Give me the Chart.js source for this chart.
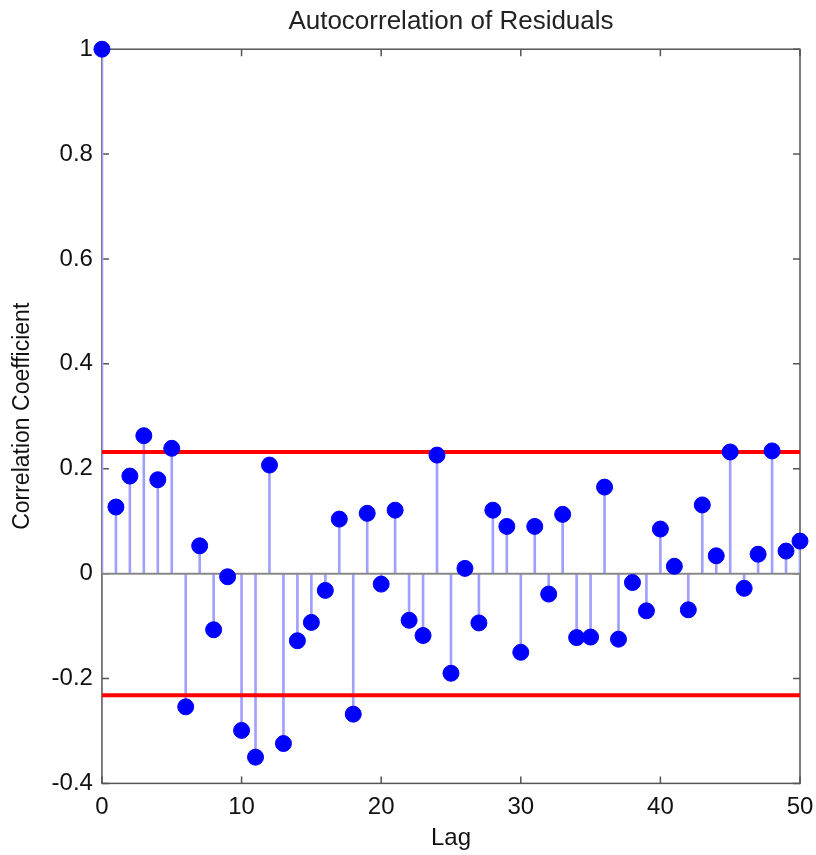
<!DOCTYPE html>
<html>
<head>
<meta charset="utf-8">
<script src="https://cdn.jsdelivr.net/npm/chart.js@4"></script>
<style>
  body { margin: 0; background: #fff; }
  #wrap { width: 816px; height: 855px; }
</style>
</head>
<body>
<div id="wrap"><canvas id="acf"></canvas></div>
<script>
// data
const lags = [];
for (let i = 0; i <= 50; i++) lags.push(i);
const acf = [1.000, 0.127, 0.186, 0.263, 0.179, 0.239, -0.254, 0.053, -0.107, -0.006,
    -0.299, -0.350, 0.207, -0.324, -0.128, -0.093, -0.032, 0.104, -0.268, 0.115,
    -0.020, 0.121, -0.089, -0.118, 0.226, -0.190, 0.010, -0.094, 0.121, 0.090,
    -0.150, 0.090, -0.039, 0.113, -0.122, -0.121, 0.165, -0.125, -0.017, -0.071,
    0.085, 0.014, -0.069, 0.131, 0.034, 0.232, -0.028, 0.037, 0.234, 0.043, 0.062];
const bound = 0.232;
const xTicks = [0, 10, 20, 30, 40, 50];

const points = lags.map((l, i) => ({ x: l, y: acf[i] }));

const FONT = '"Liberation Sans", Arial, sans-serif';

// box round the plot with inward ticks, like the original
const boxPlugin = {
    id: 'box',
    beforeDatasetsDraw(chart) {
        const ctx = chart.ctx;
        const a = chart.chartArea;
        const xs = chart.scales.x, ys = chart.scales.y;
        ctx.save();
        ctx.strokeStyle = '#555';
        ctx.lineWidth = 1.5;
        ctx.strokeRect(a.left, a.top, a.right - a.left, a.bottom - a.top);
        ctx.beginPath();
        for (let t of xs.ticks) {
            let px = xs.getPixelForValue(t.value);
            ctx.moveTo(px, a.bottom); ctx.lineTo(px, a.bottom - 7);
            ctx.moveTo(px, a.top); ctx.lineTo(px, a.top + 7);
        }
        for (let t of ys.ticks) {
            let py = ys.getPixelForValue(t.value);
            ctx.moveTo(a.left, py); ctx.lineTo(a.left + 7, py);
            ctx.moveTo(a.right, py); ctx.lineTo(a.right - 7, py);
        }
        ctx.stroke();
        ctx.restore();
    }
};

new Chart(document.getElementById('acf'), {
    type: 'scatter',
    data: {
        datasets: [
            {
                type: 'line',
                label: 'upper',
                data: [{ x: 0, y: bound }, { x: 50, y: bound }],
                borderColor: '#ff0000',
                borderWidth: 4,
                pointRadius: 0,
                order: 1
            },
            {
                type: 'line',
                label: 'lower',
                data: [{ x: 0, y: -bound }, { x: 50, y: -bound }],
                borderColor: '#ff0000',
                borderWidth: 4,
                pointRadius: 0,
                order: 1
            },
            {
                type: 'scatter',
                label: 'acf',
                data: points,
                backgroundColor: '#0000ff',
                borderColor: '#0000ff',
                pointRadius: 8,
                pointHoverRadius: 8,
                clip: false,
                order: 0
            },
            {
                type: 'bar',
                label: 'stems',
                data: points,
                backgroundColor: '#a0a0ff',
                barThickness: 2,
                order: 3
            },
            {
                type: 'line',
                label: 'zero',
                data: [{ x: 0, y: 0 }, { x: 50, y: 0 }],
                borderColor: '#888',
                borderWidth: 2,
                pointRadius: 0,
                order: 2
            }
        ]
    },
    options: {
        responsive: true,
        maintainAspectRatio: false,
        animation: false,
        layout: { padding: { left: 9, right: 0, top: 6, bottom: 2 } },
        plugins: {
            legend: { display: false },
            tooltip: { enabled: false },
            title: {
                display: true,
                fullSize: false,
                text: 'Autocorrelation of Residuals',
                color: '#222',
                font: { family: FONT, size: 26, weight: 'normal' },
                padding: { top: 0, bottom: 12 }
            }
        },
        scales: {
            x: {
                type: 'linear',
                min: 0,
                max: 50,
                offset: false,
                afterBuildTicks: (s) => { s.ticks = xTicks.map(v => ({ value: v })); },
                afterFit: (s) => { s.paddingRight = 16; },
                grid: { display: false, drawTicks: false },
                border: { display: false },
                ticks: { color: '#111', font: { family: FONT, size: 24 }, padding: 10, maxRotation: 0 },
                title: { display: true, text: 'Lag', color: '#111', font: { family: FONT, size: 24 }, padding: { top: -8, bottom: 0 } }
            },
            y: {
                min: -0.4,
                max: 1,
                grid: { display: false, drawTicks: false },
                border: { display: false },
                ticks: {
                    stepSize: 0.2,
                    color: '#111',
                    font: { family: FONT, size: 24 },
                    padding: 9,
                    callback: (v) => Math.abs(v) < 1e-9 ? '0' : String(+v.toFixed(1))
                },
                title: { display: true, text: 'Correlation Coefficient', color: '#111', font: { family: FONT, size: 23 }, padding: { top: 0, bottom: 6 } }
            }
        }
    },
    plugins: [boxPlugin]
});
</script>
</body>
</html>
